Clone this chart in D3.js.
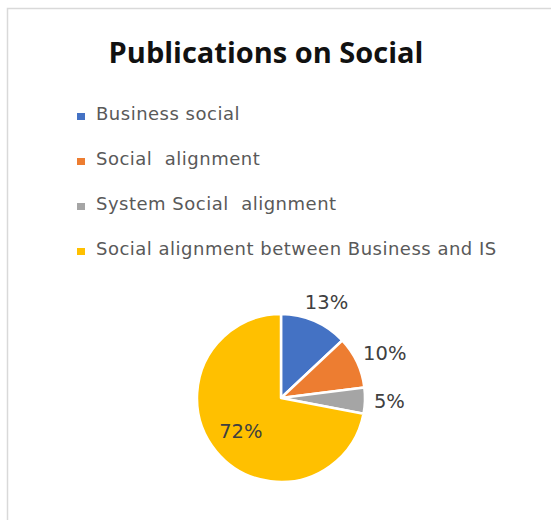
<!DOCTYPE html>
<html>
<head>
<meta charset="utf-8">
<script src="https://cdn.jsdelivr.net/npm/d3@7"></script>
<style>
  html, body { margin: 0; padding: 0; background: #fff; }
  svg { display: block; font-family: "DejaVu Sans", sans-serif; }
</style>
</head>
<body>
<div id="chart"></div>
<script>
// chart data
var categories = ['Business social', 'Social  alignment', 'System Social  alignment',
                  'Social alignment between Business and IS'];
var shares = [13, 10, 5, 72];
var colours = ['#4472C4', '#ED7D31', '#A5A5A5', '#FFC000'];
var insideLabel = [false, false, false, true];
var title = 'Publications on Social';

var width = 551, height = 520;
var cx = 281, cy = 398, radius = 84;

var svg = d3.select('#chart').append('svg')
    .attr('width', width)
    .attr('height', height);

// chart area frame (runs off the right and bottom of the window)
svg.append('rect')
    .attr('x', 7.5).attr('y', 8.5)
    .attr('width', width + 20).attr('height', height + 20)
    .attr('fill', 'none')
    .attr('stroke', '#d9d9d9')
    .attr('stroke-width', 1.5);

svg.append('text')
    .attr('x', 266).attr('y', 63)
    .attr('text-anchor', 'middle')
    .attr('font-family', '"Open Sans", sans-serif')
    .attr('font-size', 29)
    .attr('font-weight', 'bold')
    .attr('fill', '#111')
    .text(title);

// legend, one row per category
var legendY = d3.scalePoint()
    .domain(categories)
    .range([120, 255]);

var legend = svg.append('g').selectAll('g')
    .data(categories)
  .enter().append('g')
    .attr('transform', function(d) { return 'translate(77,' + legendY(d) + ')'; });

legend.append('rect')
    .attr('x', 0).attr('y', -7)
    .attr('width', 8).attr('height', 7)
    .attr('fill', function(d, i) { return colours[i]; });

legend.append('text')
    .attr('x', 19).attr('y', 0)
    .attr('font-size', 18)
    .attr('fill', '#595959')
    .attr('letter-spacing', 0.5)
    .style('white-space', 'pre')
    .text(function(d) { return d; });

// pie
var pie = d3.pie().sort(null).value(function(d) { return d; });
var arcs = pie(shares);
var arc = d3.arc().innerRadius(0).outerRadius(radius);
var innerArc = d3.arc().innerRadius(radius * 0.62).outerRadius(radius * 0.62);

var g = svg.append('g').attr('transform', 'translate(' + cx + ',' + cy + ')');

g.selectAll('path')
    .data(arcs)
  .enter().append('path')
    .attr('d', arc)
    .attr('fill', function(d, i) { return colours[i]; })
    .attr('stroke', '#fff')
    .attr('stroke-width', 2.5)
    .attr('stroke-linejoin', 'round');

var labelSize = 19.5, labelH = 22, gap = 9;

g.selectAll('text.lbl')
    .data(arcs)
  .enter().append('text')
    .attr('class', 'lbl')
    .attr('font-size', labelSize)
    .attr('fill', '#404040')
    .attr('text-anchor', 'middle')
    .attr('dominant-baseline', 'central')
    .text(function(d) { return d.data + '%'; })
    .each(function(d, i) {
        var sel = d3.select(this);
        if (insideLabel[i]) {
            var c = innerArc.centroid(d);
            sel.attr('x', c[0]).attr('y', c[1]);
            return;
        }
        // outside end: push the label box clear of the rim
        var a = (d.startAngle + d.endAngle) / 2;
        var w = this.getComputedTextLength();
        var r = radius + gap;
        var x = r * Math.sin(a) + w / 2 * Math.sin(a);
        var y = -r * Math.cos(a) - labelH / 2 * Math.cos(a);
        sel.attr('x', x).attr('y', y);
    });
</script>
</body>
</html>
